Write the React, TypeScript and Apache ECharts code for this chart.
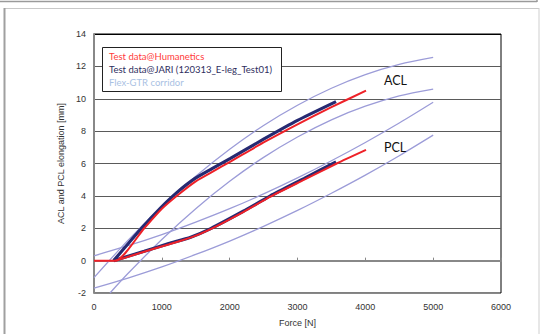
import React, { useEffect, useRef } from "react";
import * as echarts from "echarts";

// Force [N] / elongation [mm] pairs
const redACL: number[][] = [[0, 0], [320, 0], [740, 2], [1000, 3.2], [1250, 4.1], [1500, 4.9], [1750, 5.5], [2005, 6.1], [2500, 7.3], [3000, 8.42], [3500, 9.48], [4010, 10.5]];
const blueACL: number[][] = [[290, 0], [700, 2], [980, 3.25], [1220, 4.2], [1480, 5.05], [1740, 5.68], [2005, 6.3], [2500, 7.5], [3000, 8.66], [3568, 9.82]];
const redPCL: number[][] = [[320, 0], [740, 0.55], [1100, 1.0], [1425, 1.42], [1720, 1.95], [2200, 3.0], [2600, 3.95], [3100, 5.0], [3578, 6.0], [4010, 6.84]];
const bluePCL: number[][] = [[290, 0], [740, 0.58], [1100, 1.05], [1425, 1.45], [1720, 1.98], [2200, 3.05], [2600, 4.0], [3100, 5.08], [3568, 6.1]];

const corridorForce = [0, 500, 1000, 1500, 2000, 2500, 3000, 3500, 4000, 4500, 5000];
const aclUpper = [-1.05, 1.25, 3.33, 5.21, 6.88, 8.35, 9.6, 10.65, 11.49, 12.12, 12.55];
const aclLower: number[][] = [[236, -2], [500, -0.8], [1000, 1.31], [1500, 3.21], [2000, 4.9], [2500, 6.38], [3000, 7.64], [3500, 8.7], [4000, 9.54], [4500, 10.18], [5000, 10.6]];
const pclUpper = [0.3, 0.92, 1.61, 2.38, 3.21, 4.12, 5.11, 6.17, 7.3, 8.5, 9.78];
const pclLower = [-1.7, -1.08, -0.39, 0.38, 1.21, 2.12, 3.1, 4.16, 5.28, 6.48, 7.75];

const legendItems = ["Test data@Humanetics", "Test data@JARI (120313_E-leg_Test01)", "Flex-GTR corridor"];
const legendColors = ["#ff3b3b", "#2e2e5e", "#a9c1e3"];

const RED = "#ee2128";
const NAVY = "#262a72";
const CORR = "#9c9cd8";

export default function App() {
  const ref = useRef<HTMLDivElement>(null);
  useEffect(() => {
    if (!ref.current) return;
    const chart = echarts.init(ref.current, undefined, { renderer: "svg" });
    const pair = (ys: number[]) => corridorForce.map((f, i) => [f, ys[i]]);
    const corridor = (name: string, data: number[][]) => ({
      name, type: "line", data, showSymbol: false, smooth: 0.3, z: 2,
      lineStyle: { color: CORR, width: 1.3 },
    });
    chart.setOption({
      animation: false,
      backgroundColor: "#fff",
      grid: { left: 94, right: 39, top: 34, bottom: 41, show: true, borderColor: "#000", borderWidth: 1 },
      xAxis: {
        type: "value", min: 0, max: 6000, interval: 1000,
        name: "Force [N]", nameLocation: "middle", nameGap: 25,
        nameTextStyle: { fontFamily: "Liberation Sans", fontSize: 9, color: "#333" },
        axisLine: { show: true, lineStyle: { color: "#888", width: 2 } },
        axisTick: { show: true, inside: true, length: 3, lineStyle: { color: "#888" } },
        axisLabel: { fontFamily: "Liberation Sans", fontSize: 9, color: "#333", margin: 9, formatter: (v: number) => String(v) },
        splitLine: { show: false },
      },
      yAxis: {
        type: "value", min: -2, max: 14, interval: 2,
        name: "ACL and PCL elongation [mm]", nameLocation: "middle", nameGap: 18,
        nameTextStyle: { fontFamily: "Liberation Sans", fontSize: 9, color: "#333" },
        axisLine: { show: true, lineStyle: { color: "#888", width: 2 } },
        axisTick: { show: false },
        axisLabel: { fontFamily: "Liberation Sans", fontSize: 9, color: "#333", margin: 8, formatter: (v: number) => String(v) },
        splitLine: { show: true, lineStyle: { color: ["#888", "#000", "#5a5a5a", "#5a5a5a", "#5a5a5a", "#5a5a5a", "#5a5a5a", "#5a5a5a", "#000"], width: 1 } },
      },
      series: [
        corridor("ACL upper", pair(aclUpper)),
        corridor("ACL lower", aclLower),
        corridor("PCL upper", pair(pclUpper)),
        corridor("PCL lower", pair(pclLower)),
        { name: "JARI ACL", type: "line", data: blueACL, showSymbol: false, smooth: 0.2, z: 3, lineStyle: { color: NAVY, width: 3.2 } },
        { name: "JARI PCL", type: "line", data: bluePCL, showSymbol: false, smooth: 0.2, z: 3, lineStyle: { color: NAVY, width: 3.2 } },
        { name: "Humanetics ACL", type: "line", data: redACL, showSymbol: false, smooth: 0.2, z: 4, lineStyle: { color: RED, width: 2 } },
        { name: "Humanetics PCL", type: "line", data: redPCL, showSymbol: false, smooth: 0.2, z: 4, lineStyle: { color: RED, width: 2 } },
      ],
      graphic: [
        { type: "line", shape: { x1: 0, y1: 1.5, x2: 537, y2: 1.5 }, style: { stroke: "#9a9a9a", lineWidth: 1.5 }, z: 10 },
        { type: "line", shape: { x1: 537, y1: 0, x2: 537, y2: 2 }, style: { stroke: "#9a9a9a", lineWidth: 1.5 }, z: 10 },
        { type: "line", shape: { x1: 4, y1: 8.5, x2: 539, y2: 8.5 }, style: { stroke: "#c8c8c8", lineWidth: 1 }, z: 10 },
        { type: "line", shape: { x1: 4.5, y1: 8, x2: 4.5, y2: 334 }, style: { stroke: "#a0a0a0", lineWidth: 2 }, z: 10 },
        { type: "line", shape: { x1: 539, y1: 8, x2: 539, y2: 334 }, style: { stroke: "#cfcfcf", lineWidth: 1 }, z: 10 },
        { type: "rect", shape: { x: 102.5, y: 47.5, width: 179, height: 44 }, style: { fill: "#fff", stroke: "#222", lineWidth: 1 }, z: 20 },
        ...legendItems.map((t, i) => ({
          type: "text", x: 109, y: 56 + i * 13.2, z: 21,
          style: { text: t, fill: legendColors[i], fontFamily: "Lato", fontSize: 9.5, verticalAlign: "middle" },
        })),
        { type: "text", x: 384, y: 80, z: 21, style: { text: "ACL", fill: "#111", fontFamily: "Lato", fontSize: 12.5, verticalAlign: "middle" } },
        { type: "text", x: 384, y: 147, z: 21, style: { text: "PCL", fill: "#111", fontFamily: "Lato", fontSize: 12.5, verticalAlign: "middle" } },
      ],
    });
    return () => chart.dispose();
  }, []);
  return <div ref={ref} style={{ position: "fixed", left: 0, top: 0, width: 540, height: 334 }} />;
}
